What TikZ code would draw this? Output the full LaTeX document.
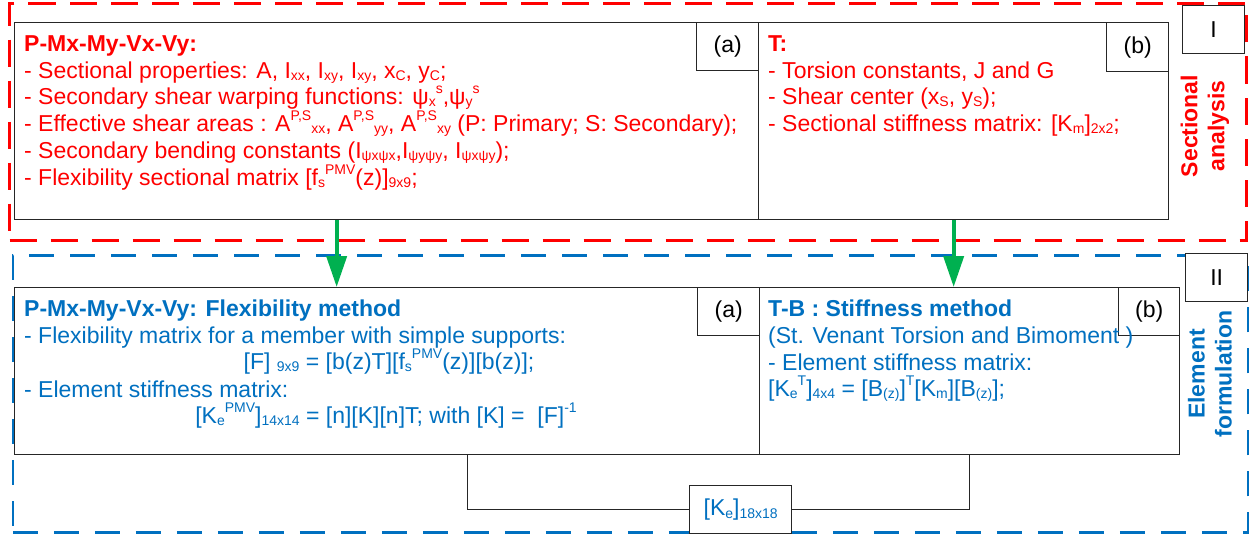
\documentclass[tikz,border=0pt]{standalone}
\usepackage{fontspec}
\setmainfont{Liberation Sans}
\usetikzlibrary{arrows.meta,calc}
\definecolor{wred}{RGB}{255,0,0}
\definecolor{wblue}{RGB}{0,112,192}
\definecolor{wgreen}{RGB}{0,176,80}
\newcommand{\sbs}[1]{\raisebox{-0.12em}{\fontsize{14}{14}\selectfont #1}}
\newcommand{\sps}[1]{\raisebox{0.45em}{\fontsize{14}{14}\selectfont #1}}
\begin{document}
\begin{tikzpicture}[x=1pt,y=-1pt,
  rect/.style={draw=black!85,line width=1.3pt,fill=white,inner sep=0pt,anchor=north west},
  txt/.style={anchor=base west,inner sep=0pt,font=\fontsize{23}{27}\selectfont},
  ctxt/.style={txt,anchor=base},
  lbl/.style={inner sep=0pt,font=\fontsize{23}{27}\selectfont,text=black},
  side/.style={rotate=90,align=center,inner sep=0pt,font=\fontsize{23}{27}\selectfont\bfseries},
  reddash/.style={draw=wred,line width=3pt,dash pattern=on 27pt off 14pt},
  bluedash/.style={draw=wblue,line width=2.6pt,dash pattern=on 25pt off 16pt},
  garrow/.style={draw=wgreen,line width=4pt,-{Triangle[length=31pt,width=20pt]}},
  conn/.style={draw=black!85,line width=1.3pt}
]
\useasboundingbox (0,0) rectangle (1249,535);
% group frames
\node[reddash,inner sep=0pt,minimum width=1237pt,minimum height=237pt,anchor=north west] (G1) at (8,2) {};
\node[bluedash,inner sep=0pt,minimum width=1235pt,minimum height=277pt,anchor=north west] (G2) at (11.5,254) {};
% section I boxes
\node[rect,minimum width=744pt,minimum height=197pt] (A1) at (14,22) {};
\node[rect,minimum width=410pt,minimum height=197pt] (B1) at (758,22) {};
\node[rect,minimum width=62pt,minimum height=48pt] (LA1) at (696,22) {};
\node[lbl] (LA1t) at (LA1.center) {(a)};
\node[rect,minimum width=62pt,minimum height=49pt] (LB1) at (1106,22) {};
\node[lbl] (LB1t) at (LB1.center) {(b)};
\node[rect,minimum width=62pt,minimum height=48pt] (R1) at (1182,5) {};
\node[lbl] (R1t) at (R1.center) {I};
\node[side,text=wred] (S1) at (1205,126) {Sectional\\analysis};
% section I text
\begin{scope}[every node/.append style={text=wred}]
\node[txt,font=\fontsize{23}{27}\selectfont\bfseries] (a1) at (24,52) {P-Mx-My-Vx-Vy:};
\node[txt] (a2) at (24,78) {- Sectional properties: A, I\sbs{xx}, I\sbs{xy}, I\sbs{xy}, x\sbs{C}, y\sbs{C};};
\node[txt] (a3) at (24,104) {- Secondary shear warping functions: ψ\sbs{x}\sps{s},ψ\sbs{y}\sps{s}};
\node[txt] (a4) at (24,131) {- Effective shear areas : A\sps{P,S}\sbs{xx}, A\sps{P,S}\sbs{yy}, A\sps{P,S}\sbs{xy} (P: Primary; S: Secondary);};
\node[txt] (a5) at (24,158) {- Secondary bending constants (I\sbs{ψxψx},I\sbs{ψyψy}, I\sbs{ψxψy});};
\node[txt] (a6) at (24,185) {- Flexibility sectional matrix [f\sbs{s}\sps{PMV}(z)]\sbs{9x9};};
\node[txt,font=\fontsize{23}{27}\selectfont\bfseries] (b1) at (768,52) {T:};
\node[txt] (b2) at (768,78) {- Torsion constants, J and G};
\node[txt] (b3) at (768,104) {- Shear center (x\sbs{S}, y\sbs{S});};
\node[txt] (b4) at (768,131) {- Sectional stiffness matrix: [K\sbs{m}]\sbs{2x2};};
\end{scope}
% section II boxes
\node[rect,minimum width=745pt,minimum height=167pt] (A2) at (14,287) {};
\node[rect,minimum width=420pt,minimum height=167pt] (B2) at (759,287) {};
\node[rect,minimum width=62pt,minimum height=48pt] (LA2) at (697,287) {};
\node[lbl] (LA2t) at (LA2.center) {(a)};
\node[rect,minimum width=61pt,minimum height=48pt] (LB2) at (1118,287) {};
\node[lbl] (LB2t) at (LB2.center) {(b)};
\node[rect,minimum width=62pt,minimum height=48pt] (R2) at (1185,253) {};
\node[lbl] (R2t) at (R2.center) {II};
\node[side,text=wblue] (S2) at (1210,374) {Element\\formulation};
% section II text
\begin{scope}[every node/.append style={text=wblue}]
\node[txt,font=\fontsize{23}{27}\selectfont\bfseries] (c1) at (24,316) {P-Mx-My-Vx-Vy: Flexibility method};
\node[txt] (c2) at (24,343) {- Flexibility matrix for a member with simple supports:};
\node[ctxt] (c3) at (389,369) {[F] \sbs{9x9} = [b(z)T][f\sbs{s}\sps{PMV}(z)][b(z)];};
\node[txt] (c4) at (24,397) {- Element stiffness matrix:};
\node[ctxt] (c5) at (386,423) {[K\sbs{e}\sps{PMV}]\sbs{14x14} = [n][K][n]T; with [K] = \ [F]\sps{-1}};
\node[txt,font=\fontsize{23}{27}\selectfont\bfseries] (d1) at (768,316) {T-B : Stiffness method};
\node[txt] (d2) at (768,343) {(St. Venant Torsion and Bimoment )};
\node[txt] (d3) at (768,370) {- Element stiffness matrix:};
\node[txt] (d4) at (768,396) {[K\sbs{e}\sps{T}]\sbs{4x4} = [B\sbs{(z)}]\sps{T}[K\sbs{m}][B\sbs{(z)}];};
\end{scope}
% assembly box
\node[rect,minimum width=102pt,minimum height=48pt] (Ke) at (689,485) {};
\node[lbl,text=wblue] (Ket) at (Ke.center) {[K\sbs{e}]\sbs{18x18}};
% connectors
\draw[conn] ([xshift=80.5pt]A2.south) |- (Ke.west);
\draw[conn] (Ke.east) -| (B2.south);
\draw[garrow] ([xshift=-50pt]A1.south) -- ([xshift=-50pt]A1.south |- A2.north);
\draw[garrow] ([xshift=-10pt]B1.south) -- ([xshift=-10pt]B1.south |- A2.north);
\end{tikzpicture}
\end{document}
